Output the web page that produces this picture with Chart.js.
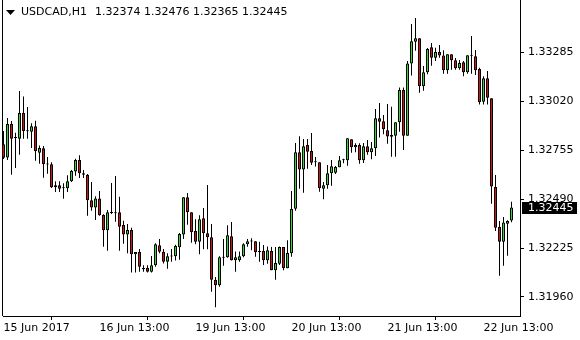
<!DOCTYPE html>
<html>
<head>
<meta charset="utf-8">
<script src="https://cdn.jsdelivr.net/npm/chart.js@4.4.0/dist/chart.umd.min.js"></script>
<style>
  html, body { margin: 0; padding: 0; background: #fff; }
  #wrap { width: 580px; height: 340px; }
</style>
</head>
<body>
<div id="wrap"><canvas id="chart" width="580" height="340"></canvas></div>
<script>
/* ---- data (USDCAD, H1) ---- */
const symbol = 'USDCAD,H1';

const opens = [
  1.32787, 1.32716, 1.32897, 1.32825, 1.32817, 1.32956, 1.32862, 1.32855, 1.32884, 1.32741,
  1.32765, 1.32681, 1.32679, 1.32554, 1.32565, 1.32551, 1.32549, 1.32587, 1.32639, 1.32702,
  1.32630, 1.32622, 1.32484, 1.32444, 1.32494, 1.32404, 1.32321, 1.32418, 1.32414, 1.32419,
  1.32350, 1.32299, 1.32323, 1.32191, 1.32204, 1.32117, 1.32117, 1.32097, 1.32132, 1.32240,
  1.32205, 1.32151, 1.32181, 1.32180, 1.32229, 1.32299, 1.32500, 1.32419, 1.32317, 1.32259,
  1.32386, 1.32305, 1.32283, 1.32054, 1.32023, 1.32173, 1.32175, 1.32289, 1.32159, 1.32159,
  1.32180, 1.32245, 1.32261, 1.32262, 1.32204, 1.32209, 1.32159, 1.32209, 1.32105, 1.32140,
  1.32231, 1.32115, 1.32197, 1.32438, 1.32744, 1.32651, 1.32783, 1.32750, 1.32689, 1.32689,
  1.32546, 1.32565, 1.32630, 1.32633, 1.32662, 1.32701, 1.32700, 1.32814, 1.32771, 1.32783,
  1.32700, 1.32776, 1.32744, 1.32765, 1.32928, 1.32911, 1.32863, 1.32837, 1.32833, 1.32906,
  1.33081, 1.32833, 1.33225, 1.33342, 1.33361, 1.33101, 1.33177, 1.33312, 1.33256, 1.33287,
  1.33267, 1.33188, 1.33274, 1.33242, 1.33198, 1.33231, 1.33177, 1.33268, 1.33263, 1.33195,
  1.33017, 1.33144, 1.33036, 1.32556, 1.32339, 1.32259, 1.32357, 1.32374
];
const highs = [
  1.32859, 1.32929, 1.32913, 1.32850, 1.33075, 1.33045, 1.32989, 1.32901, 1.32915, 1.32781,
  1.32778, 1.32718, 1.32689, 1.32587, 1.32587, 1.32576, 1.32619, 1.32648, 1.32709, 1.32727,
  1.32648, 1.32626, 1.32583, 1.32505, 1.32534, 1.32408, 1.32431, 1.32577, 1.32615, 1.32503,
  1.32373, 1.32355, 1.32335, 1.32204, 1.32220, 1.32132, 1.32132, 1.32182, 1.32251, 1.32274,
  1.32220, 1.32197, 1.32220, 1.32243, 1.32306, 1.32500, 1.32523, 1.32419, 1.32381, 1.32402,
  1.32442, 1.32566, 1.32355, 1.32068, 1.32180, 1.32274, 1.32348, 1.32366, 1.32207, 1.32207,
  1.32251, 1.32274, 1.32278, 1.32262, 1.32259, 1.32242, 1.32234, 1.32231, 1.32231, 1.32234,
  1.32231, 1.32267, 1.32534, 1.32794, 1.32830, 1.32815, 1.32815, 1.32848, 1.32718, 1.32689,
  1.32583, 1.32675, 1.32702, 1.32669, 1.32724, 1.32709, 1.32819, 1.32814, 1.32792, 1.32792,
  1.32794, 1.32810, 1.32799, 1.32978, 1.33011, 1.32946, 1.33005, 1.32990, 1.32906, 1.33095,
  1.33095, 1.33238, 1.33438, 1.33471, 1.33361, 1.33211, 1.33308, 1.33335, 1.33310, 1.33325,
  1.33296, 1.33274, 1.33274, 1.33254, 1.33243, 1.33238, 1.33269, 1.33373, 1.33297, 1.33202,
  1.33155, 1.33184, 1.33036, 1.32621, 1.32371, 1.32393, 1.32375, 1.32476
];
const lows = [
  1.32707, 1.32702, 1.32622, 1.32659, 1.32730, 1.32817, 1.32817, 1.32767, 1.32698, 1.32682,
  1.32606, 1.32628, 1.32550, 1.32528, 1.32528, 1.32492, 1.32528, 1.32583, 1.32617, 1.32604,
  1.32604, 1.32400, 1.32427, 1.32377, 1.32400, 1.32232, 1.32211, 1.32409, 1.32368, 1.32211,
  1.32249, 1.32197, 1.32092, 1.32092, 1.32097, 1.32097, 1.32092, 1.32092, 1.32124, 1.32197,
  1.32142, 1.32113, 1.32151, 1.32157, 1.32162, 1.32274, 1.32351, 1.32254, 1.32245, 1.32191,
  1.32218, 1.32218, 1.31989, 1.31904, 1.32016, 1.32129, 1.32173, 1.32157, 1.32097, 1.32151,
  1.32175, 1.32232, 1.32213, 1.32178, 1.32151, 1.32133, 1.32140, 1.32105, 1.32054, 1.32133,
  1.32105, 1.32115, 1.32178, 1.32427, 1.32546, 1.32525, 1.32655, 1.32675, 1.32666, 1.32530,
  1.32489, 1.32546, 1.32563, 1.32626, 1.32662, 1.32684, 1.32671, 1.32741, 1.32744, 1.32682,
  1.32686, 1.32730, 1.32706, 1.32724, 1.32823, 1.32841, 1.32790, 1.32720, 1.32720, 1.32855,
  1.32756, 1.32833, 1.33160, 1.33294, 1.33066, 1.33077, 1.33166, 1.33212, 1.33238, 1.33256,
  1.33169, 1.33169, 1.33191, 1.33191, 1.33191, 1.33155, 1.33169, 1.33169, 1.33162, 1.33003,
  1.33003, 1.33003, 1.32465, 1.32317, 1.32075, 1.32129, 1.32184, 1.32365
];
const closes = [
  1.32714, 1.32897, 1.32817, 1.32821, 1.32956, 1.32859, 1.32858, 1.32884, 1.32749, 1.32767,
  1.32679, 1.32677, 1.32554, 1.32565, 1.32546, 1.32549, 1.32587, 1.32642, 1.32702, 1.32630,
  1.32622, 1.32484, 1.32444, 1.32494, 1.32402, 1.32321, 1.32419, 1.32415, 1.32416, 1.32341,
  1.32299, 1.32323, 1.32191, 1.32204, 1.32124, 1.32110, 1.32097, 1.32132, 1.32245, 1.32205,
  1.32151, 1.32180, 1.32179, 1.32236, 1.32301, 1.32500, 1.32419, 1.32310, 1.32259, 1.32381,
  1.32305, 1.32283, 1.32054, 1.32023, 1.32175, 1.32176, 1.32294, 1.32159, 1.32175, 1.32180,
  1.32245, 1.32262, 1.32263, 1.32202, 1.32208, 1.32159, 1.32213, 1.32105, 1.32144, 1.32231,
  1.32115, 1.32198, 1.32437, 1.32744, 1.32651, 1.32776, 1.32747, 1.32687, 1.32693, 1.32549,
  1.32565, 1.32630, 1.32668, 1.32664, 1.32700, 1.32703, 1.32819, 1.32771, 1.32783, 1.32700,
  1.32776, 1.32744, 1.32765, 1.32928, 1.32909, 1.32868, 1.32829, 1.32828, 1.32906, 1.33081,
  1.32833, 1.33225, 1.33345, 1.33361, 1.33101, 1.33177, 1.33303, 1.33256, 1.33287, 1.33267,
  1.33188, 1.33274, 1.33242, 1.33198, 1.33227, 1.33177, 1.33269, 1.33266, 1.33188, 1.33014,
  1.33144, 1.33039, 1.32559, 1.32335, 1.32259, 1.32364, 1.32371, 1.32445
];

const xTickIdx = [0, 24, 48, 72, 96, 120];
const xTickLabels = ['15 Jun 2017', '16 Jun 13:00', '19 Jun 13:00', '20 Jun 13:00', '21 Jun 13:00', '22 Jun 13:00'];
const yTicks = [1.31960, 1.32225, 1.32490, 1.32755, 1.33020, 1.33285];

/* ---- look ---- */
const bullColor = '#2fdc2f';
const bearColor = '#d41414';
const axisFont = { family: '"DejaVu Sans", sans-serif', size: 11 };

Chart.defaults.font.family = axisFont.family;
Chart.defaults.font.size = axisFont.size;
Chart.defaults.color = '#000';

const idx = opens.map((_, i) => i);

// header, left frame and last price tag
const overlay = {
    id: 'overlay',
    afterDraw(chart) {
        const { ctx, chartArea, scales } = chart;
        ctx.save();

        ctx.strokeStyle = '#000';
        ctx.lineWidth = 1;
        ctx.beginPath();
        ctx.moveTo(chartArea.left - 0.5, chartArea.top);
        ctx.lineTo(chartArea.left - 0.5, chartArea.bottom);
        ctx.stroke();

        ctx.fillStyle = '#000';
        ctx.beginPath();
        ctx.moveTo(6, 10);
        ctx.lineTo(15, 10);
        ctx.lineTo(10.5, 15);
        ctx.closePath();
        ctx.fill();

        ctx.font = '11px "DejaVu Sans"';
        ctx.textBaseline = 'middle';
        ctx.textAlign = 'left';
        const n = closes.length - 1;
        ctx.fillText(symbol, 21, 12.5);
        ctx.fillText([opens[n], highs[n], lows[n], closes[n]].map(v => v.toFixed(5)).join(' '), 95, 12.5);

        const y = Math.round(scales.y.getPixelForValue(closes[n]));
        ctx.fillRect(chartArea.right + 2, y - 5, 55, 12);
        ctx.fillStyle = '#fff';
        ctx.fillText(closes[n].toFixed(5), chartArea.right + 8, y + 1);

        ctx.restore();
    }
};

new Chart(document.getElementById('chart'), {
    type: 'bar',
    data: {
        datasets: [
            {
                label: 'body',
                data: idx.map(i => ({ x: i, y: [opens[i], closes[i]] })),
                backgroundColor: idx.map(i => closes[i] >= opens[i] ? bullColor : bearColor),
                borderColor: '#000',
                borderWidth: 1,
                borderSkipped: false,
                barThickness: 3,
                minBarLength: 1,
                inflateAmount: 0,
                grouped: false,
                order: 0
            },
            {
                label: 'wick',
                data: idx.map(i => ({ x: i, y: [lows[i], highs[i]] })),
                backgroundColor: '#000',
                borderWidth: 0,
                barThickness: 1,
                inflateAmount: 0,
                grouped: false,
                order: 1
            }
        ]
    },
    options: {
        responsive: false,
        animation: false,
        events: [],
        layout: { padding: { left: 3, top: 0, right: 0, bottom: 0 } },
        plugins: { legend: { display: false }, tooltip: { enabled: false } },
        scales: {
            x: {
                type: 'linear',
                offset: false,
                min: -0.125,
                max: 129.125,
                grid: { display: true, drawOnChartArea: false, drawTicks: true, tickLength: 4, color: '#000' },
                border: { display: true, color: '#000' },
                ticks: {
                    autoSkip: false,
                    maxRotation: 0,
                    minRotation: 0,
                    align: 'start',
                    padding: 2,
                    color: '#000',
                    callback: (v) => xTickLabels[xTickIdx.indexOf(v)]
                },
                afterBuildTicks: (scale) => { scale.ticks = xTickIdx.map(v => ({ value: v })); },
                afterFit: (scale) => { scale.height = 24; scale.paddingLeft = 0; scale.paddingRight = 0; }
            },
            y: {
                position: 'right',
                min: 1.318571,
                max: 1.335682,
                grid: { display: true, drawOnChartArea: false, drawTicks: true, tickLength: 4, color: '#000' },
                border: { display: true, color: '#000' },
                ticks: {
                    padding: 4,
                    color: '#000',
                    callback: (v) => Number(v).toFixed(5)
                },
                afterBuildTicks: (scale) => { scale.ticks = yTicks.map(v => ({ value: v })); },
                afterFit: (scale) => { scale.width = 60; scale.paddingTop = 0; scale.paddingBottom = 0; }
            }
        }
    },
    plugins: [overlay]
});
</script>
</body>
</html>
